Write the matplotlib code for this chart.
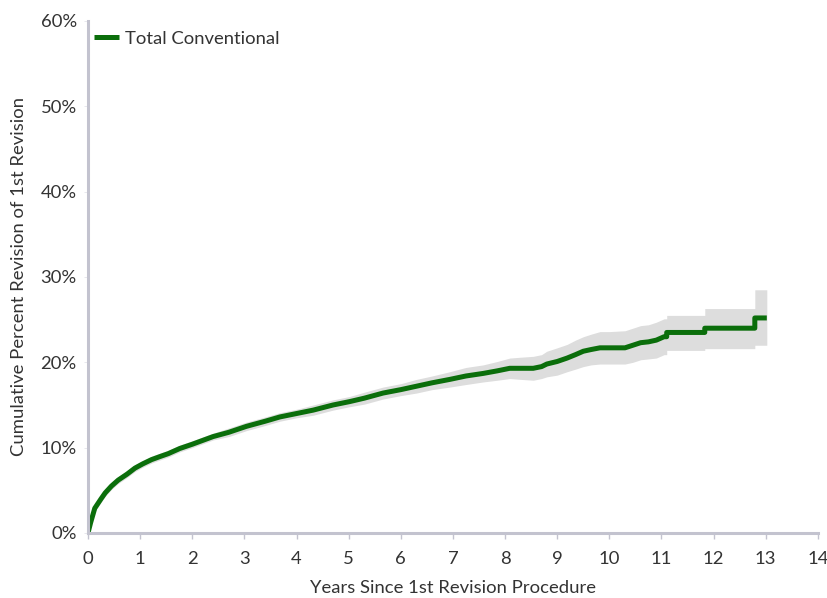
import matplotlib
matplotlib.use("Agg")
import matplotlib.pyplot as plt
from matplotlib.ticker import FuncFormatter

# Kaplan-Meier style cumulative revision curve (percent) with 95% CI band
years = [0, 0.05, 0.13, 0.25, 0.33, 0.45, 0.58, 0.75, 0.9, 1.05, 1.22, 1.4,
         1.54, 1.76, 2.0, 2.4, 2.7, 3.04, 3.4, 3.68, 4.0, 4.32, 4.7, 5.02,
         5.3, 5.66, 6.0, 6.3, 6.6, 6.94, 7.25, 7.58, 7.85, 8.09, 8.3, 8.54,
         8.7, 8.8, 9.0, 9.19, 9.35, 9.5, 9.65, 9.82, 10.0, 10.3, 10.45, 10.6,
         10.75, 10.9, 11.05, 11.1, 11.1, 11.83, 11.83, 12.79, 12.79, 13.02]
cum_pct = [0, 1.2, 2.9, 4.0, 4.7, 5.5, 6.2, 6.9, 7.6, 8.1, 8.6, 9.0,
           9.3, 9.9, 10.4, 11.3, 11.8, 12.5, 13.1, 13.6, 14.0, 14.4, 15.0, 15.4,
           15.8, 16.4, 16.8, 17.2, 17.6, 18.0, 18.4, 18.7, 19.0, 19.3, 19.3, 19.3,
           19.5, 19.8, 20.1, 20.5, 20.9, 21.3, 21.5, 21.7, 21.7, 21.7, 22.0, 22.3,
           22.4, 22.6, 23.0, 23.0, 23.5, 23.5, 24.0, 24.0, 25.2, 25.2]
ci_low = [0, 0.9, 2.5, 3.6, 4.3, 5.1, 5.8, 6.5, 7.2, 7.7, 8.2, 8.6,
          8.9, 9.5, 10.0, 10.9, 11.3, 12.0, 12.6, 13.1, 13.5, 13.8, 14.4, 14.8,
          15.1, 15.7, 16.1, 16.4, 16.8, 17.1, 17.4, 17.7, 17.9, 18.1, 18.0, 17.9,
          18.1, 18.3, 18.5, 18.9, 19.2, 19.5, 19.7, 19.8, 19.8, 19.8, 20.0, 20.3,
          20.4, 20.5, 20.9, 20.9, 21.4, 21.4, 21.6, 21.6, 22.0, 22.0]
ci_high = [0, 1.5, 3.3, 4.4, 5.1, 5.9, 6.6, 7.3, 8.0, 8.5, 9.0, 9.4,
           9.7, 10.3, 10.8, 11.7, 12.3, 13.0, 13.6, 14.1, 14.5, 15.0, 15.6, 16.0,
           16.5, 17.1, 17.5, 18.0, 18.4, 18.9, 19.4, 19.7, 20.1, 20.5, 20.6, 20.7,
           20.9, 21.3, 21.7, 22.1, 22.6, 23.0, 23.3, 23.6, 23.6, 23.7, 24.0, 24.3,
           24.4, 24.7, 25.1, 25.1, 25.5, 25.5, 26.3, 26.3, 28.5, 28.5]

series_label = "Total Conventional"
x_ticks = list(range(0, 15))
y_ticks = [0, 10, 20, 30, 40, 50, 60]

plt.rcParams['font.family'] = ['Lato', 'DejaVu Sans']
fs = 13.3
text_color = '#333333'

fig = plt.figure(figsize=(8.27, 5.98), dpi=100)
ax = fig.add_axes([0.1064, 0.1087, 0.8826, 0.8562])

ax.fill_between(years, ci_low, ci_high, color='#dddddd', linewidth=0, zorder=1)
ax.plot(years, cum_pct, color='#0b6e0b', linewidth=3.6, solid_capstyle='butt',
        label=series_label, zorder=2)

ax.set_xlim(0, 14)
ax.set_ylim(0, 60)
ax.set_xticks(x_ticks)
ax.set_yticks(y_ticks)
ax.yaxis.set_major_formatter(FuncFormatter(lambda v, p: f"{v:.0f}%"))

axis_grey = '#c3c3cf'
for side in ('top', 'right'):
    ax.spines[side].set_visible(False)
for side in ('left', 'bottom'):
    ax.spines[side].set_color(axis_grey)
    ax.spines[side].set_linewidth(2.2)

ax.tick_params(axis='x', length=4, width=1, color=axis_grey, pad=9,
               labelsize=fs, labelcolor=text_color)
ax.tick_params(axis='y', length=3, width=0.6, color='#e4e4ea', pad=5,
               labelsize=fs, labelcolor=text_color)

ax.set_xlabel("Years Since 1st Revision Procedure", fontsize=fs,
              color=text_color, labelpad=9)
ax.set_ylabel("Cumulative Percent Revision of 1st Revision", fontsize=fs,
              color=text_color, labelpad=10)

ax.legend(loc='upper left', frameon=False, fontsize=fs, handlelength=1.35,
          handletextpad=0.3, borderpad=0.35, borderaxespad=0.0,
          labelcolor=text_color, bbox_to_anchor=(0.0, 0.994))

fig.savefig("out.png", dpi=100)
